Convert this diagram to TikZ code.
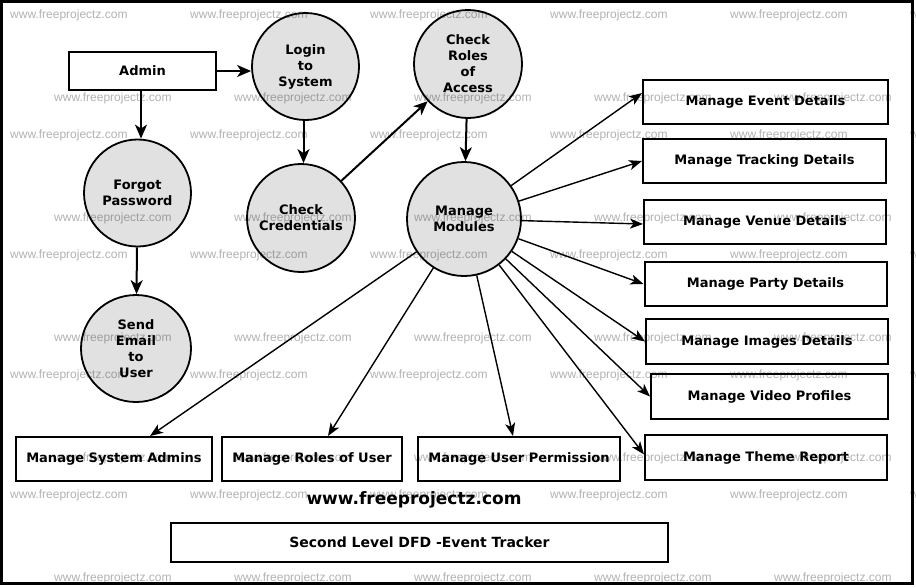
\documentclass[tikz,border=0pt]{standalone}
\usepackage{fontspec}
\setmainfont{DejaVu Sans}
\newfontfamily\wmfont{Liberation Sans}
\usetikzlibrary{arrows.meta,shapes.geometric}
\definecolor{procfill}{RGB}{225,225,225}
\definecolor{wmgray}{RGB}{178,178,178}
\begin{document}
\begin{tikzpicture}[x=1pt,y=-1pt,
  box/.style={draw,line width=2pt,rectangle,inner sep=0pt,font=\bfseries\fontsize{13}{16}\selectfont},
  proc/.style={draw,line width=1.8pt,circle,fill=procfill,inner sep=0pt,minimum size=#1,align=center,font=\bfseries\fontsize{13}{16}\selectfont},
  flow/.style={-{Stealth[length=14pt,width=12pt,inset=4pt]},line width=2pt},
  fan/.style={-{Stealth[length=13pt,width=10pt,inset=3.5pt]},line width=1.4pt},
  wm/.style={anchor=west,text=wmgray,font=\wmfont\fontsize{12}{12}\selectfont,inner sep=0pt}
]
\useasboundingbox (0,0) rectangle (916,587);
\fill[white] (0,0) rectangle (916,587);
\draw[line width=2.5pt] (1.5,1.5) rectangle (912.5,583.5);

% processes
\node[proc=107pt] (login) at (305.5,66.5) {Login\\to\\System};
\node[proc=107pt] (forgot) at (137.5,193) {Forgot\\Password};
\node[proc=108pt] (cred) at (301,218) {Check\\Credentials};
\node[proc=108pt] (raccess) at (468,64) {Check\\Roles\\of\\Access};
\node[proc=114pt] (modules) at (464,219) {Manage\\Modules};
\node[proc=105pt,ellipse,minimum width=110pt,minimum height=107pt] (email) at (136,348.5) {Send\\Email\\to\\User};

% boxes
\node[box,minimum width=147pt,minimum height=38pt] (admin) at (142.5,71) {Admin};
\node[box,minimum width=245pt,minimum height=44pt] (event) at (765.5,102) {Manage Event Details};
\node[box,minimum width=243pt,minimum height=44pt] (tracking) at (764.5,161) {Manage Tracking Details};
\node[box,minimum width=242pt,minimum height=44pt] (venue) at (765,222) {Manage Venue Details};
\node[box,minimum width=242pt,minimum height=44pt] (party) at (765.5,284) {Manage Party Details};
\node[box,minimum width=242pt,minimum height=45pt] (images) at (767,341.5) {Manage Images Details};
\node[box,minimum width=237pt,minimum height=45pt] (video) at (769.5,396.5) {Manage Video Profiles};
\node[box,minimum width=242pt,minimum height=45pt] (theme) at (766,457.5) {Manage Theme Report};
\node[box,minimum width=196pt,minimum height=44pt] (sysadm) at (114,459) {Manage System Admins};
\node[box,minimum width=180pt,minimum height=44pt] (roles) at (312,459) {Manage Roles of User};
\node[box,minimum width=202pt,minimum height=44pt] (perm) at (519,459) {Manage User Permission};

\node[font=\bfseries\fontsize{17}{20}\selectfont,inner sep=0pt] (site) at (414,500) {www.freeprojectz.com};
\node[box,minimum width=497pt,minimum height=39pt,font=\bfseries\fontsize{14}{16}\selectfont] (title) at (419.5,542.5) {Second Level DFD -Event Tracker};

% flows
\draw[flow] (admin.east) -- (admin.east -| login.west);
\draw[flow] ([xshift=-1.5pt]admin.south) -- ([xshift=-1.5pt]admin.south |- forgot.north);
\draw[flow] ([xshift=-2pt]login.south) -- ([xshift=-2pt]login.south |- cred.north);
\draw[flow] (cred) -- (raccess);
\draw[flow] (raccess) -- (modules);
\draw[flow] (forgot) -- (email);

\draw[fan] (modules) -- ([yshift=9pt]event.west);
\draw[fan] (modules) -- (tracking.west);
\draw[fan] (modules) -- ([yshift=-2pt]venue.west);
\draw[fan] (modules) -- (party.west);
\draw[fan] (modules) -- (images.west);
\draw[fan] (modules) -- (video.west);
\draw[fan] (modules) -- ([yshift=3pt]theme.west);
\draw[fan] (modules) -- ([xshift=-6pt]perm.north);
\draw[fan] (modules) -- ([xshift=16pt]roles.north);
\draw[fan] (modules) -- ([xshift=36pt]sysadm.north);

% watermarks
\begin{scope}[blend mode=multiply]
\foreach \yy in {15,135,255,375,495}{
  \foreach \xx in {10,190,370,550,730,910}{
    \node[wm] at (\xx,\yy) {www.freeprojectz.com};
  }
}
\foreach \yy in {98,218,338,458,578}{
  \foreach \xx in {54,234,414,594,774}{
    \node[wm] at (\xx,\yy) {www.freeprojectz.com};
  }
}
\end{scope}
\end{tikzpicture}
\end{document}
